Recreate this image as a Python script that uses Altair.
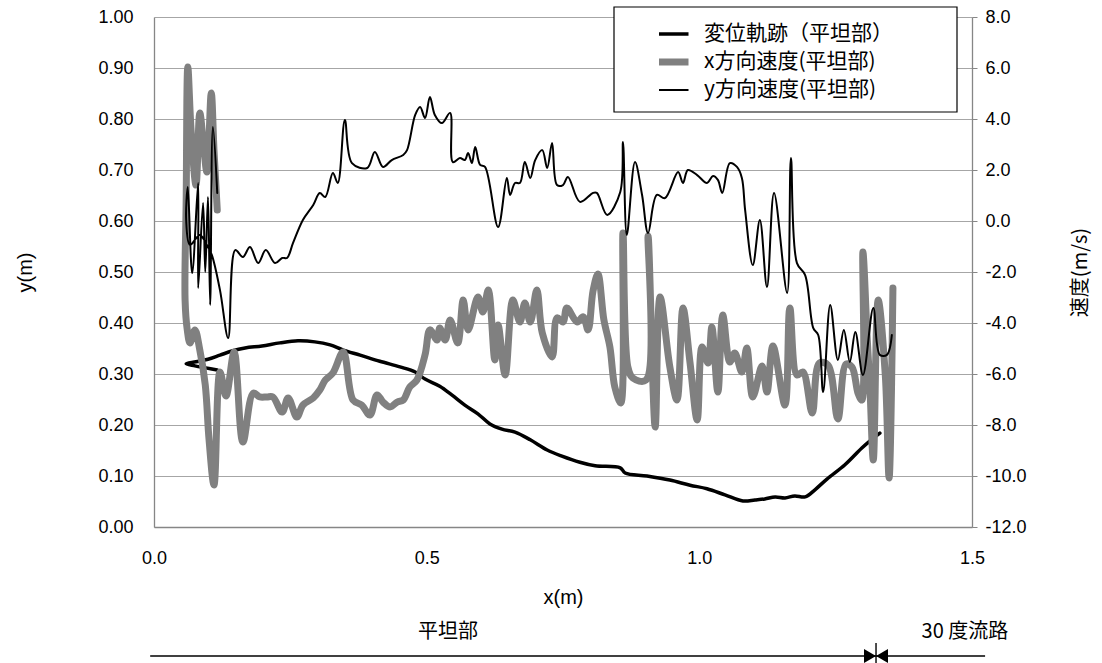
import altair as alt
import pandas as pd

# 変位軌跡（平坦部）: x (m) and y (m), in travel order
traj_x = [0.116, 0.095, 0.075, 0.059, 0.077, 0.099, 0.121, 0.143, 0.167, 0.198,
          0.231, 0.264, 0.295, 0.323, 0.347, 0.378, 0.414, 0.451, 0.479, 0.497,
          0.524, 0.546, 0.570, 0.594, 0.616, 0.638, 0.662, 0.690, 0.721, 0.748,
          0.781, 0.809, 0.855, 0.864, 0.904, 0.946, 0.983, 1.014, 1.047, 1.080,
          1.102, 1.120, 1.139, 1.157, 1.175, 1.194, 1.212, 1.234, 1.267, 1.298,
          1.313, 1.331]
traj_y = [0.308, 0.312, 0.316, 0.320, 0.324, 0.329, 0.337, 0.345, 0.351, 0.355,
          0.361, 0.365, 0.363, 0.357, 0.347, 0.337, 0.325, 0.314, 0.304, 0.290,
          0.276, 0.259, 0.239, 0.222, 0.202, 0.192, 0.186, 0.171, 0.151, 0.139,
          0.127, 0.120, 0.116, 0.106, 0.100, 0.092, 0.082, 0.075, 0.063, 0.051,
          0.053, 0.055, 0.059, 0.057, 0.061, 0.059, 0.073, 0.094, 0.122, 0.155,
          0.169, 0.184]

# x方向速度(平坦部): position x (m) and velocity (m/s)
vx_x = [0.116, 0.110, 0.105, 0.097, 0.090, 0.084, 0.077, 0.068, 0.062, 0.059,
        0.057, 0.061, 0.066, 0.075, 0.084, 0.094, 0.101, 0.110, 0.121, 0.132,
        0.147, 0.163, 0.182, 0.194, 0.207, 0.218, 0.235, 0.246, 0.262, 0.273,
        0.292, 0.304, 0.314, 0.328, 0.347, 0.365, 0.381, 0.396, 0.409, 0.420,
        0.433, 0.446, 0.457, 0.469, 0.482, 0.497, 0.506, 0.519, 0.524, 0.534,
        0.543, 0.557, 0.567, 0.576, 0.594, 0.603, 0.613, 0.625, 0.631, 0.644,
        0.658, 0.671, 0.680, 0.690, 0.702, 0.712, 0.730, 0.739, 0.750, 0.757,
        0.776, 0.787, 0.796, 0.805, 0.814, 0.825, 0.836, 0.845, 0.856, 0.860,
        0.869, 0.878, 0.902, 0.906, 0.919, 0.928, 0.946, 0.959, 0.970, 0.983,
        0.996, 1.005, 1.016, 1.023, 1.034, 1.043, 1.056, 1.065, 1.078, 1.087,
        1.098, 1.115, 1.124, 1.135, 1.157, 1.166, 1.179, 1.190, 1.207, 1.220,
        1.236, 1.254, 1.269, 1.280, 1.291, 1.298, 1.300, 1.308, 1.313, 1.319,
        1.328, 1.341, 1.348, 1.355]
vx_v = [0.43, 2.78, 5.02, 1.92, 3.18, 4.24, 1.41, 3.57, 6.04, 0.82,
        -3.10, -4.27, -4.78, -4.27, -5.06, -6.43, -8.59, -10.35, -5.92, -6.86,
        -5.14, -8.67, -6.75, -6.90, -6.90, -6.90, -7.49, -6.94, -7.69, -7.22,
        -6.94, -6.63, -6.24, -5.96, -5.14, -7.02, -7.22, -7.61, -6.82, -7.10,
        -7.29, -7.10, -7.02, -6.51, -6.24, -5.25, -4.27, -4.67, -4.20, -4.67,
        -3.88, -4.78, -3.10, -4.27, -2.98, -3.57, -2.71, -5.45, -4.08, -6.04,
        -3.10, -3.96, -3.22, -3.96, -2.71, -4.39, -5.33, -3.80, -3.96, -3.41,
        -3.96, -3.76, -4.27, -2.75, -2.08, -3.88, -4.94, -6.51, -7.14, -0.47,
        -5.73, -6.16, -6.24, -0.59, -8.08, -2.98, -5.73, -7.02, -3.41, -5.57,
        -7.80, -4.94, -5.57, -4.16, -6.71, -3.69, -5.53, -5.18, -5.92, -4.98,
        -6.90, -5.69, -6.71, -4.90, -7.22, -3.41, -6.04, -5.92, -7.53, -5.57,
        -5.65, -7.76, -5.61, -5.73, -6.75, -7.02, -1.22, -4.67, -6.63, -9.37,
        -3.10, -6.04, -10.08, -2.63]

# y方向速度(平坦部): position x (m) and velocity (m/s)
vy_x = [0.116, 0.108, 0.103, 0.099, 0.094, 0.090, 0.081, 0.081, 0.070, 0.062,
        0.059, 0.066, 0.084, 0.097, 0.106, 0.121, 0.136, 0.149, 0.163, 0.176,
        0.191, 0.205, 0.222, 0.235, 0.244, 0.255, 0.273, 0.292, 0.304, 0.314,
        0.328, 0.337, 0.350, 0.363, 0.391, 0.405, 0.420, 0.436, 0.457, 0.464,
        0.479, 0.488, 0.497, 0.506, 0.515, 0.528, 0.543, 0.548, 0.561, 0.570,
        0.576, 0.583, 0.589, 0.598, 0.607, 0.631, 0.647, 0.653, 0.662, 0.671,
        0.680, 0.690, 0.699, 0.712, 0.721, 0.730, 0.739, 0.750, 0.759, 0.781,
        0.805, 0.812, 0.831, 0.855, 0.860, 0.867, 0.882, 0.895, 0.906, 0.922,
        0.937, 0.961, 0.970, 0.979, 0.996, 1.014, 1.025, 1.034, 1.042, 1.056,
        1.069, 1.078, 1.084, 1.098, 1.111, 1.124, 1.137, 1.161, 1.168, 1.179,
        1.194, 1.209, 1.218, 1.227, 1.240, 1.254, 1.265, 1.276, 1.286, 1.300,
        1.319, 1.331, 1.344, 1.353]
vy_v = [1.10, 3.69, -3.29, 0.94, -2.00, 0.71, -2.63, 1.49, -2.04, 1.33,
        0.04, -0.94, -0.55, -0.94, -1.33, -2.71, -4.59, -1.14, -1.41, -1.02,
        -1.65, -1.14, -1.65, -1.45, -1.45, -0.86, 0.04, 0.63, 1.10, 0.94,
        1.88, 1.49, 3.96, 2.27, 2.08, 2.71, 2.12, 2.39, 2.59, 2.78,
        4.16, 4.47, 4.04, 4.86, 4.16, 3.84, 4.24, 2.31, 2.47, 2.39,
        2.67, 2.27, 2.90, 2.20, 2.12, -0.24, 1.69, 1.02, 1.49, 1.49,
        2.31, 1.69, 2.39, 2.78, 2.08, 3.06, 1.41, 1.41, 1.73, 0.75,
        1.10, 1.10, 0.24, 1.14, 3.10, -0.55, 2.31, 1.02, -0.47, 1.02,
        0.90, 1.92, 1.49, 2.00, 1.80, 1.49, 1.76, 1.61, 1.10, 2.27,
        2.12, 1.69, 0.43, -1.73, 0.04, -2.59, 1.10, -2.82, 2.47, -1.65,
        -2.12, -4.20, -4.47, -6.71, -3.29, -5.45, -4.27, -5.53, -4.35, -6.04,
        -3.41, -5.25, -5.25, -4.47]

series_names = ["変位軌跡（平坦部）", "x方向速度(平坦部)", "y方向速度(平坦部)"]
series_colors = ["#000000", "#808080", "#000000"]
series_widths = [3.5, 7.0, 2.0]

left_ticks = [round(0.1 * k, 1) for k in range(11)]
right_ticks = list(range(-12, 9, 2))
x_ticks = [0.0, 0.5, 1.0, 1.5]

# section strip under the axis: 平坦部 | 30 度流路
strip_start = [-0.007]
strip_end = [1.524]
section_boundary = [1.324]
section_names = ["平坦部", "30 度流路"]
section_centers = [0.539, 1.487]

LATIN = "Liberation Sans, Noto Sans CJK JP"
CJK = "Noto Sans CJK JP"
AXIS_GREY = "#868686"
W, H = 818, 510


def frame(xs, ys, name):
    return pd.DataFrame({"x": xs, "y": ys, "i": range(len(xs)), "series": name})


traj_df = frame(traj_x, traj_y, series_names[0])
vx_df = frame(vx_x, vx_v, series_names[1])
vy_df = frame(vy_x, vy_v, series_names[2])

# legend symbols take the same stroke widths as the lines they stand for
width_expr = (
    f"datum.value === '{series_names[0]}' ? {series_widths[0]} : "
    f"datum.value === '{series_names[1]}' ? {series_widths[1]} : {series_widths[2]}"
)
legend = alt.Legend(
    title=None, orient="none", legendX=505, legendY=4,
    symbolType="stroke", symbolSize=1444, clipHeight=26, rowPadding=2,
    padding=0, labelOffset=24, labelFont=CJK, labelFontSize=21,
    labelColor="#000000", labelLimit=400,
    symbolStrokeWidth={"expr": width_expr},
)
color = alt.Color("series:N", scale=alt.Scale(domain=series_names, range=series_colors), legend=legend)

x_enc = alt.X(
    "x:Q", scale=alt.Scale(domain=[0, 1.5], nice=False, zero=False),
    axis=alt.Axis(values=x_ticks, format=".1f", grid=False, ticks=False, labelFlush=False,
                  labelPadding=22, title="x(m)", titleY=70, titleBaseline="middle"),
)


def line_mark(k):
    return dict(interpolate="catmull-rom", strokeCap="round", strokeJoin="round",
                strokeWidth=series_widths[k])


traj_layer = alt.Chart(traj_df).mark_line(**line_mark(0)).encode(
    x=x_enc,
    y=alt.Y("y:Q", scale=alt.Scale(domain=[0, 1], nice=False),
            axis=alt.Axis(values=left_ticks, format=".2f", grid=True, ticks=False,
                          labelFlush=False, labelPadding=21, title="y(m)",
                          titleX=-129, titleY=255, titleBaseline="middle")),
    color=color, order="i:Q",
)

v_axis = alt.Axis(values=right_ticks, orient="right", grid=False, ticks=True, tickSize=5,
                  tickColor=AXIS_GREY, labelPadding=8, labelAlign="left", labelFlush=False,
                  labelExpr="(datum.value < 0 ? '-' : '') + format(abs(datum.value), '.1f')",
                  title="速度(m/s)", titleX=108, titleY=255, titleAngle=270,
                  titleBaseline="middle", titleFont=CJK, titleFontSize=20)
v_scale = alt.Scale(domain=[-12, 8], nice=False, zero=False)

vx_layer = alt.Chart(vx_df).mark_line(**line_mark(1)).encode(
    x="x:Q", y=alt.Y("y:Q", scale=v_scale, axis=v_axis),
    color=color, order="i:Q",
)
vy_layer = alt.Chart(vy_df).mark_line(**line_mark(2)).encode(
    x="x:Q", y=alt.Y("y:Q", scale=v_scale, axis=v_axis),
    color=color, order="i:Q",
)
vel_layers = alt.layer(vx_layer, vy_layer)

# legend frame
box = alt.Chart(pd.DataFrame({"k": [0]})).mark_rect(
    fill="#ffffff", stroke="#000000", strokeWidth=1.2
).encode(x=alt.value(460), x2=alt.value(803), y=alt.value(-10), y2=alt.value(95))

strip_df = pd.DataFrame({"x": strip_start, "x2": strip_end})
strip_line = alt.Chart(strip_df).mark_rule(color="#000000", strokeWidth=1.6).encode(
    x="x:Q", x2="x2:Q", y=alt.value(639)
)
bound_df = pd.DataFrame({"x": section_boundary})
bound_tick = alt.Chart(bound_df).mark_rule(color="#000000", strokeWidth=1.4).encode(
    x="x:Q", y=alt.value(626), y2=alt.value(646)
)
arrow_r = alt.Chart(bound_df).mark_point(
    shape="M-1,-1.15L1,0L-1,1.15Z", filled=True, size=144, color="#000000", opacity=1, xOffset=-6
).encode(x="x:Q", y=alt.value(639))
arrow_l = alt.Chart(bound_df).mark_point(
    shape="M1,-1.15L-1,0L1,1.15Z", filled=True, size=144, color="#000000", opacity=1, xOffset=6
).encode(x="x:Q", y=alt.value(639))
names_df = pd.DataFrame({"x": section_centers, "t": section_names})
section_text = alt.Chart(names_df).mark_text(
    font=CJK, fontSize=20, color="#000000", baseline="middle", align="center"
).encode(x="x:Q", y=alt.value(615), text="t:N")

chart = alt.layer(
    box, traj_layer, vel_layers, strip_line, bound_tick, arrow_r, arrow_l, section_text
).resolve_scale(y="independent").properties(
    width=W, height=H,
    autosize=alt.AutoSizeParams(type="none"),
    padding={"left": 154, "top": 17, "right": 1102 - 154 - W, "bottom": 663 - 17 - H},
    background="#ffffff",
).configure_view(stroke=None).configure_axis(
    labelFont=LATIN, labelFontSize=18, labelColor="#000000",
    titleFont=LATIN, titleFontSize=20, titleFontWeight="normal", titleColor="#000000",
    domainColor=AXIS_GREY, domainWidth=1.3,
    gridColor="#a6a6a6", gridWidth=1,
)

chart.save("out.html", embed_options={"renderer": "svg", "actions": False})
